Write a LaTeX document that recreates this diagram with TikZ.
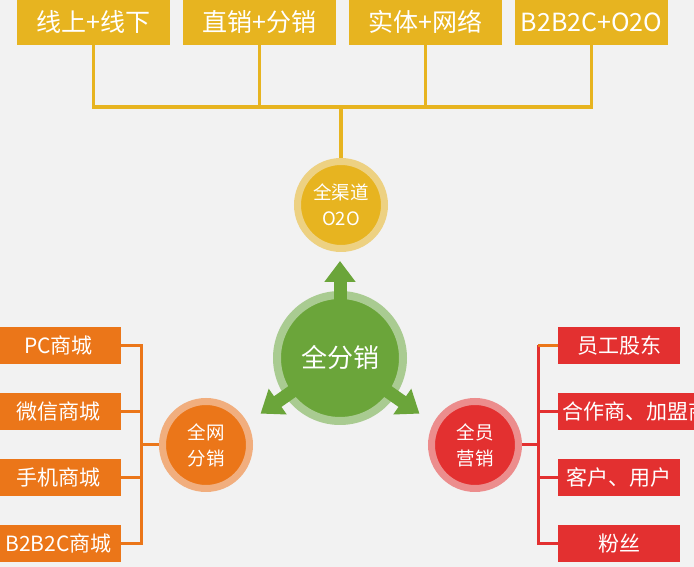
\documentclass[tikz,border=0pt]{standalone}
\usepackage{fontspec}
\setmainfont{Noto Sans CJK SC}
\usetikzlibrary{arrows.meta,positioning}

% Colori della figura
\definecolor{sfondo}{HTML}{F2F2F2}
\definecolor{oro}{HTML}{E7B420}
\definecolor{oroch}{HTML}{EDD182}
\definecolor{verde}{HTML}{6BA53A}
\definecolor{verdech}{HTML}{A9CB91}
\definecolor{arancio}{HTML}{EB7619}
\definecolor{arancioch}{HTML}{F1AE7E}
\definecolor{rosso}{HTML}{E33030}
\definecolor{rossoch}{HTML}{EC8D8D}

\begin{document}
\begin{tikzpicture}[x=1pt, y=1pt,
    scatola/.style={fill=#1, text=white, inner sep=0pt, outer sep=0pt},
    cerchio/.style 2 args={circle, fill=#1, draw=#2, line width=7pt,
        minimum size=87pt, inner sep=0pt, text=white, align=center,
        font=\fontsize{18.5}{26}\selectfont},
    linea/.style={draw=#1, line width=3pt},
    freccia/.style={draw=verde, line width=13pt,
        -{Triangle[width=30pt, length=21pt]}}]

    % Area della figura e sfondo grigio
    \useasboundingbox (0,0) rectangle (694,567);
    \clip (0,0) rectangle (694,567);
    \fill[sfondo] (0,0) rectangle (694,567);

    % Riga in alto: quattro scatole dorate
    \node[scatola=oro, minimum width=153pt, minimum height=46pt,
        font=\fontsize{25}{30}\selectfont] (t1) at (93.5,545) {线上+线下};
    \node[scatola=oro, minimum width=153pt, minimum height=46pt,
        font=\fontsize{25}{30}\selectfont, right=13pt of t1] (t2) {直销+分销};
    \node[scatola=oro, minimum width=153pt, minimum height=46pt,
        font=\fontsize{25}{30}\selectfont, right=13pt of t2] (t3) {实体+网络};
    \node[scatola=oro, minimum width=153pt, minimum height=46pt,
        font=\fontsize{25}{30}\selectfont, right=13pt of t3] (t4) {B2B2C+O2O};

    % Cerchi dei tre rami
    \node[cerchio={oro}{oroch}] (qd) at (341,362) {全渠道\\O2O};
    \node[cerchio={arancio}{arancioch}] (qw) at (206,122) {全网\\分销};
    \node[cerchio={rosso}{rossoch}] (qy) at (475,122) {全员\\营销};

    % Cerchio centrale verde
    \node[circle, fill=verde, draw=verdech, line width=8pt, minimum size=126pt,
        inner sep=0pt, text=white, font=\fontsize{26}{30}\selectfont]
        (g) at (340,209) {全分销};

    % Punte delle tre frecce
    \path (g.center) ++(90:97) coordinate (fsu);
    \path (g.center) ++(215:97) coordinate (fsx);
    \path (g.center) ++(325:97) coordinate (fdx);
    \draw[freccia, shorten <=50pt] (g.center) -- (fsu);
    \draw[freccia, shorten <=50pt] (g.center) -- (fsx);
    \draw[freccia, shorten <=50pt] (g.center) -- (fdx);

    % Collegamenti dorati in alto
    \coordinate (bus) at (341,460);
    \draw[linea=oro, line width=3.5pt] (t1.south) |- (bus) -| (t4.south);
    \draw[linea=oro, line width=3.5pt] (t2.south) -- (t2.south |- bus);
    \draw[linea=oro, line width=3.5pt] (t3.south) -- (t3.south |- bus);
    \draw[linea=oro, line width=3.5pt] (bus) -- (qd.north);

    % Ramo arancione: le scatole a sinistra
    \node[scatola=arancio, minimum width=125pt, minimum height=37pt,
        font=\fontsize{21}{25}\selectfont] (w1) at (58.5,221.5) {PC商城};
    \node[scatola=arancio, minimum width=125pt, minimum height=37pt,
        font=\fontsize{21}{25}\selectfont, below=29pt of w1] (w2) {微信商城};
    \node[scatola=arancio, minimum width=125pt, minimum height=37pt,
        font=\fontsize{21}{25}\selectfont, below=29pt of w2] (w3) {手机商城};
    \node[scatola=arancio, minimum width=125pt, minimum height=37pt,
        font=\fontsize{21}{25}\selectfont, below=29pt of w3] (w4) {B2B2C商城};

    \coordinate (wb) at (141,122);
    \draw[linea=arancio] (qw.west) -- (wb);
    \draw[linea=arancio] (w1.east) -| (wb);
    \draw[linea=arancio] (w2.east) -| (wb);
    \draw[linea=arancio] (w3.east) -| (wb);
    \draw[linea=arancio] (w4.east) -| (wb);

    % Ramo rosso: le scatole a destra
    \node[scatola=rosso, minimum width=122pt, minimum height=37pt,
        font=\fontsize{21}{25}\selectfont] (y1) at (619,221.5) {员工股东};
    \node[scatola=rosso, minimum height=37pt, inner xsep=4pt,
        font=\fontsize{21}{25}\selectfont, below=29pt of y1.south west,
        anchor=north west] (y2) {合作商、加盟商};
    \node[scatola=rosso, minimum width=122pt, minimum height=37pt,
        font=\fontsize{21}{25}\selectfont, below=29pt of y2.south -| y1,
        anchor=north] (y3) {客户、用户};
    \node[scatola=rosso, minimum width=122pt, minimum height=37pt,
        font=\fontsize{21}{25}\selectfont, below=29pt of y3] (y4) {粉丝};

    \coordinate (yb) at (538,122);
    \draw[linea=rosso] (qy.east) -- (yb);
    \draw[linea=rosso] (y2.west) -| (yb);
    \draw[linea=rosso] (y3.west) -| (yb);
    \draw[linea=rosso] (y4.west) -| (yb);
    \draw[linea=rosso] (yb) -- (yb |- y1.west);
    % il primo tratto in alto e' arancione come nell'originale
    \draw[linea=arancio] (yb |- y1.west) -- (y1.west);
\end{tikzpicture}
\end{document}
